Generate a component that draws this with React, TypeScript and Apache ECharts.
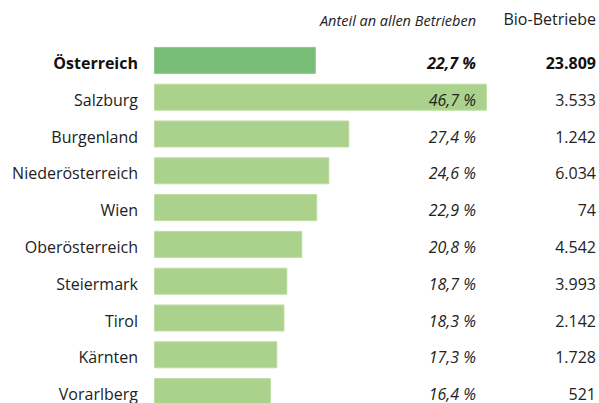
import React, { useEffect, useRef } from "react";
import * as echarts from "echarts";

const regions = [
  "Österreich",
  "Salzburg",
  "Burgenland",
  "Niederösterreich",
  "Wien",
  "Oberösterreich",
  "Steiermark",
  "Tirol",
  "Kärnten",
  "Vorarlberg",
];
const shareOfAllFarms = [22.7, 46.7, 27.4, 24.6, 22.9, 20.8, 18.7, 18.3, 17.3, 16.4];
const organicFarms = [23809, 3533, 1242, 6034, 74, 4542, 3993, 2142, 1728, 521];
const headerShare = "Anteil an allen Betrieben";
const headerFarms = "Bio-Betriebe";

const FONT = "Open Sans";
const fmtPct = (v: number) => v.toFixed(1).replace(".", ",") + " %";
const fmtInt = (v: number) => String(v).replace(/\B(?=(\d{3})+(?!\d))/g, ".");

export default function App() {
  const ref = useRef<HTMLDivElement>(null);
  useEffect(() => {
    if (!ref.current) return;
    const chart = echarts.init(ref.current, undefined, { renderer: "svg" });
    const labelRich = (size: number, italic: boolean) => ({
      n: { fontFamily: FONT, fontSize: size, color: "#222", fontStyle: italic ? "italic" : "normal", padding: [5, 0, 0, 0] },
      b: { fontFamily: FONT, fontSize: size, color: "#111", fontWeight: "bold", fontStyle: italic ? "italic" : "normal", padding: [5, 0, 0, 0] },
    });
    chart.setOption({
      animation: false,
      grid: { left: 154, right: 3, top: 42, height: 368, containLabel: false },
      xAxis: {
        type: "value",
        min: 0,
        max: 62,
        show: false,
      },
      yAxis: [
        {
          type: "category",
          data: regions,
          inverse: true,
          position: "left",
          z: 10,
          axisLine: { show: false },
          axisTick: { show: false },
          axisLabel: {
            margin: 16,
            formatter: (v: string, i: number) => (i === 0 ? `{b|${v}}` : `{n|${v}}`),
            rich: labelRich(16, false),
          },
        },
        {
          type: "category",
          data: shareOfAllFarms.map(fmtPct),
          inverse: true,
          position: "right",
          offset: -120,
          z: 10,
          axisLine: { show: false },
          axisTick: { show: false },
          axisLabel: {
            margin: 0,
            align: "right",
            formatter: (v: string, i: number) => (i === 0 ? `{b|${v}}` : `{n|${v}}`),
            rich: labelRich(16, true),
          },
        },
        {
          type: "category",
          data: organicFarms.map(fmtInt),
          inverse: true,
          position: "right",
          offset: 0,
          z: 10,
          axisLine: { show: false },
          axisTick: { show: false },
          axisLabel: {
            margin: 0,
            align: "right",
            formatter: (v: string, i: number) => (i === 0 ? `{b|${v}}` : `{n|${v}}`),
            rich: labelRich(16, false),
          },
        },
      ],
      series: [
        {
          type: "bar",
          yAxisIndex: 0,
          barWidth: 27,
          z: 2,
          data: shareOfAllFarms.map((v, i) => ({
            value: v,
            itemStyle: {
              color: i === 0 ? "#78BE78" : "#ABD28D",
              borderColor: i === 0 ? "#8CCB8A" : "#BDDDA3",
              borderWidth: 1,
            },
          })),
        },
      ],
      graphic: [
        {
          type: "text",
          right: 123,
          top: 13,
          style: { text: headerShare, fontFamily: FONT, fontSize: 14.5, fontStyle: "italic", fill: "#222" },
        },
        {
          type: "text",
          right: 3,
          top: 11,
          style: { text: headerFarms, fontFamily: FONT, fontSize: 16, fill: "#222" },
        },
      ],
    });
    return () => chart.dispose();
  }, []);
  return (
    <div
      ref={ref}
      style={{ position: "fixed", left: 0, top: 0, width: 599, height: 420, background: "#fff" }}
    />
  );
}
